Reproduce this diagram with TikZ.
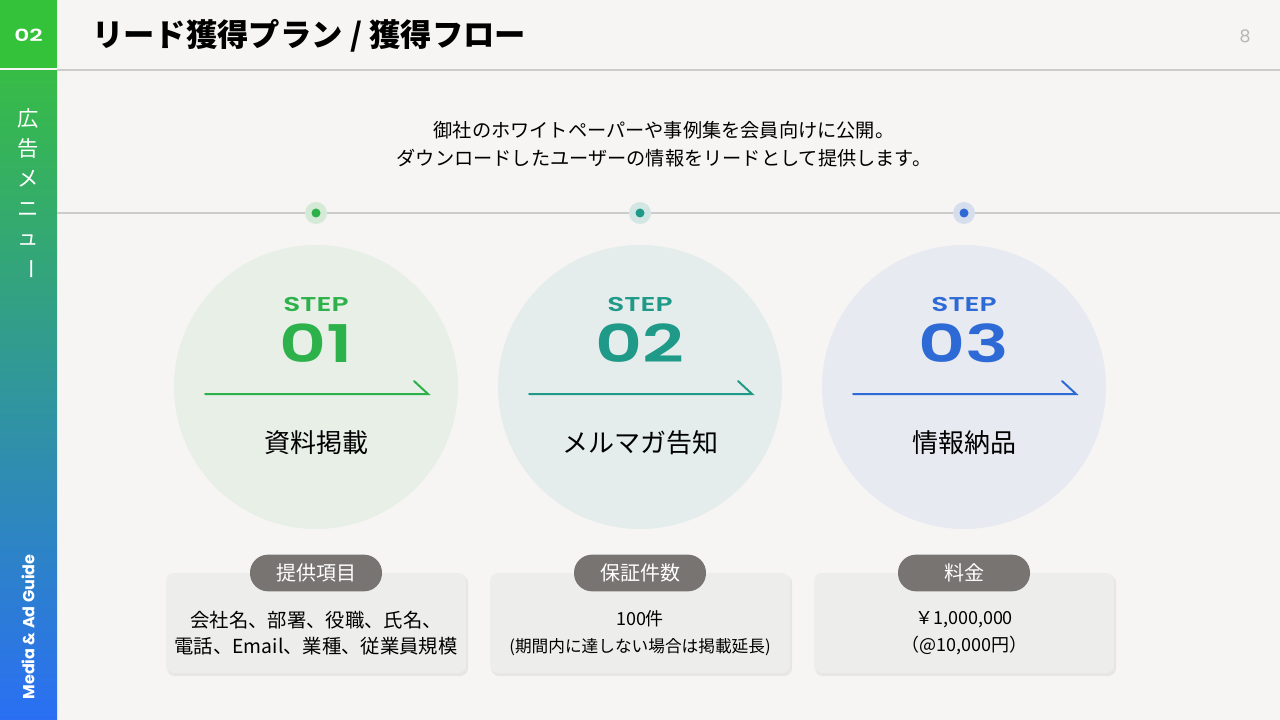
\documentclass[tikz,border=0pt]{standalone}
\usepackage{fontspec}
\setmainfont{Noto Sans CJK JP}
\newfontfamily\wideface{Poppins SemiBold}[FakeStretch=1.4]
\newfontfamily\guideface{Poppins}

\definecolor{bgpage}{HTML}{F6F5F3}
\definecolor{badgegreen}{HTML}{35C23B}
\definecolor{sidegreen}{HTML}{37BC46}
\definecolor{sideteal}{HTML}{2598A0}
\definecolor{sideblue}{HTML}{2A6FF4}
\definecolor{rulegray}{HTML}{CCCCCC}
\definecolor{pagegray}{HTML}{B5B5B5}
\definecolor{stepgreen}{HTML}{2DB24B}
\definecolor{stepteal}{HTML}{1F9A88}
\definecolor{stepblue}{HTML}{2E6AD6}
\definecolor{halogreen}{HTML}{D4E9D6}
\definecolor{haloteal}{HTML}{D2E6E3}
\definecolor{haloblue}{HTML}{D6DEEE}
\definecolor{circgreen}{HTML}{E7EFE6}
\definecolor{circteal}{HTML}{E4EDEB}
\definecolor{circblue}{HTML}{E7EAF1}
\definecolor{boxgray}{HTML}{EDEDEC}
\definecolor{boxshade}{HTML}{E7E6E4}
\definecolor{pillgray}{HTML}{787472}

\begin{document}
\begin{tikzpicture}[x=0.75pt,y=0.75pt,yscale=-1,xscale=1,
    sidechar/.style={inner sep=0.75pt, text=white, font=\fontsize{16}{16}\selectfont},
    steplbl/.style={inner sep=0.75pt, font=\wideface\fontsize{15}{15}\selectfont},
    stepnum/.style={inner sep=0.75pt, font=\wideface\fontsize{39}{39}\selectfont},
    steptitle/.style={inner sep=0.75pt, font=\fontsize{19.5}{19.5}\selectfont},
    arrowline/.style={line width=1.5pt, line cap=round},
    pill/.style={fill=pillgray, text=white, rounded corners=13.5pt, minimum width=99pt, minimum height=27.5pt, inner sep=0pt, font=\fontsize{15}{15}\selectfont},
    boxtext/.style={inner sep=0.75pt, align=center, font=\fontsize{13.5}{20}\selectfont}]
    \useasboundingbox (0,0) rectangle (1280,720);
    \fill[bgpage] (0,0) rectangle (1280,720);

    %Shape: Badge
    \fill[badgegreen] (0,0) rectangle (57,68);
    %Shape: Side bar
    \shade[top color=sidegreen, middle color=sideteal, bottom color=sideblue] (0,71) rectangle (57,720);
    %Straight Lines
    \draw[rulegray, line width=1pt] (57,70) -- (1280,70);
    \draw[rulegray, line width=1.1pt] (57,213) -- (1280,213);

    % Text Node
    \draw (28.5,35) node [inner sep=0.75pt, text=white, font=\wideface\fontsize{12.5}{12.5}\selectfont] (badge) {02};
    % Text Node
    \draw (28,118) node [sidechar] (sideA) {広};
    \draw (28,148) node [sidechar] (sideB) {告};
    \draw (28,179) node [sidechar] (sideC) {メ};
    \draw (28,210) node [sidechar] (sideD) {ニ};
    \draw (28,240) node [sidechar] (sideE) {ュ};
    \draw (28,269) node [sidechar] (sideF) {\rotatebox{-90}{ー}};
    % Text Node
    \draw (28,627) node [rotate=90, inner sep=0.75pt, text=white, font=\guideface\bfseries\fontsize{12}{12}\selectfont] (guide) {Media \& Ad Guide};
    % Text Node
    \draw (91,36) node [anchor=west, inner sep=0.75pt, font=\bfseries\fontsize{23.5}{23.5}\selectfont] (title) {リード獲得プラン / 獲得フロー};
    % Text Node
    \draw (1245,36) node [inner sep=0.75pt, text=pagegray, font=\guideface\fontsize{13}{13}\selectfont] (pageno) {8};
    % Text Node
    \draw (664,130) node [inner sep=0.75pt, font=\fontsize{14.4}{14.4}\selectfont] (introA) {御社のホワイトペーパーや事例集を会員向けに公開。};
    \draw (664,158) node [inner sep=0.75pt, font=\fontsize{14.4}{14.4}\selectfont] (introB) {ダウンロードしたユーザーの情報をリードとして提供します。};

    %Shape: Timeline dots
    \fill[halogreen] (316,213) circle (11);
    \fill[stepgreen] (316,213) circle (4.5);
    \fill[haloteal] (640,213) circle (11);
    \fill[stepteal] (640,213) circle (4.5);
    \fill[haloblue] (964,213) circle (11);
    \fill[stepblue] (964,213) circle (4.5);

    %Shape: Circles
    \fill[circgreen] (316,387) circle (142);
    \fill[circteal] (640,387) circle (142);
    \fill[circblue] (964,387) circle (142);

    % Step 01
    \draw (316,304) node [steplbl, text=stepgreen] (stepA) {STEP};
    \draw (316,343) node [stepnum, text=stepgreen] (numA) {01};
    \coordinate (arrA0) at (205,394);
    \coordinate (arrA1) at (428,394);
    \draw[arrowline, stepgreen] (arrA0) -- (arrA1) -- ++(-14,-13);
    \draw (316,443) node [steptitle] (titleA) {資料掲載};

    % Step 02
    \draw (640,304) node [steplbl, text=stepteal] (stepB) {STEP};
    \draw (640,343) node [stepnum, text=stepteal] (numB) {02};
    \coordinate (arrB0) at (529,394);
    \coordinate (arrB1) at (752,394);
    \draw[arrowline, stepteal] (arrB0) -- (arrB1) -- ++(-14,-13);
    \draw (640,443) node [steptitle] (titleB) {メルマガ告知};

    % Step 03
    \draw (964,304) node [steplbl, text=stepblue] (stepC) {STEP};
    \draw (964,343) node [stepnum, text=stepblue] (numC) {03};
    \coordinate (arrC0) at (853,394);
    \coordinate (arrC1) at (1076,394);
    \draw[arrowline, stepblue] (arrC0) -- (arrC1) -- ++(-14,-13);
    \draw (964,443) node [steptitle] (titleC) {情報納品};

    %Shape: Info boxes
    \fill[boxshade, rounded corners=6pt] (167,575) rectangle (468,676);
    \fill[boxgray, rounded corners=6pt] (166,573) rectangle (466,673);
    \fill[boxshade, rounded corners=6pt] (491,575) rectangle (792,676);
    \fill[boxgray, rounded corners=6pt] (490,573) rectangle (790,673);
    \fill[boxshade, rounded corners=6pt] (815,575) rectangle (1116,676);
    \fill[boxgray, rounded corners=6pt] (814,573) rectangle (1114,673);

    % Text Node
    \draw (316,573) node [pill] (pillA) {提供項目};
    \draw (316,633) node [boxtext, font=\fontsize{14.5}{20}\selectfont] (infoA) {会社名、部署、役職、氏名、\\電話、Email、業種、従業員規模};
    % Text Node
    \draw (640,573) node [pill] (pillB) {保証件数};
    \draw (640,633) node [boxtext] (infoB) {100件\\{\fontsize{12.5}{12.5}\selectfont (期間内に達しない場合は掲載延長)}};
    % Text Node
    \draw (964,573) node [pill] (pillC) {料金};
    \draw (964,633) node [boxtext] (infoC) {￥1,000,000\\（@10,000円）};
\end{tikzpicture}
\end{document}
